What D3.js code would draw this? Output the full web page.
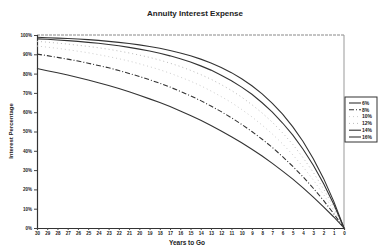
<!DOCTYPE html>
<html>
<head>
<meta charset="utf-8">
<script src="https://cdn.jsdelivr.net/npm/d3@7"></script>
<style>
  body { margin: 0; background: #fff; }
  text { font-family: "Liberation Sans", Arial, sans-serif; font-weight: bold; fill: #222; }
</style>
</head>
<body>
<script>
// years to go, left to right
const years = d3.range(30, -1, -1);
const rates = ["6%", "8%", "10%", "12%", "14%", "16%"];
const yTicks = [0, 10, 20, 30, 40, 50, 60, 70, 80, 90, 100];

// interest share of the payment (%), read for 30 .. 0 years to go
const r6  = [82.6, 81.5, 80.4, 79.3, 78.0, 76.7, 75.3, 73.8, 72.3, 70.6, 68.8, 66.9, 65.0, 62.9, 60.6, 58.3, 55.8, 53.1, 50.3, 47.3, 44.2, 40.8, 37.3, 33.5, 29.5, 25.3, 20.8, 16.0, 11.0, 5.7, 0];
const r8  = [90.1, 89.3, 88.4, 87.5, 86.5, 85.4, 84.2, 83.0, 81.6, 80.1, 78.5, 76.8, 75.0, 73.0, 70.8, 68.5, 66.0, 63.2, 60.3, 57.1, 53.7, 50.0, 46.0, 41.7, 37.0, 31.9, 26.5, 20.6, 14.3, 7.4, 0];
const r10 = [94.3, 93.7, 93.1, 92.4, 91.6, 90.8, 89.8, 88.8, 87.7, 86.5, 85.1, 83.6, 82.0, 80.2, 78.2, 76.1, 73.7, 71.0, 68.1, 65.0, 61.4, 57.6, 53.3, 48.7, 43.6, 37.9, 31.7, 24.9, 17.4, 9.1, 0];
const r12 = [96.7, 96.3, 95.8, 95.3, 94.7, 94.1, 93.4, 92.6, 91.7, 90.7, 89.6, 88.4, 87.0, 85.4, 83.7, 81.7, 79.5, 77.1, 74.3, 71.3, 67.8, 63.9, 59.6, 54.8, 49.3, 43.3, 36.4, 28.8, 20.3, 10.7, 0];
const r14 = [98.0, 97.8, 97.4, 97.1, 96.7, 96.2, 95.7, 95.1, 94.4, 93.6, 92.7, 91.7, 90.5, 89.2, 87.7, 86.0, 84.0, 81.8, 79.2, 76.3, 73.0, 69.3, 64.9, 60.0, 54.4, 48.1, 40.8, 32.5, 23.1, 12.3, 0];
const r16 = [98.8, 98.6, 98.4, 98.2, 97.9, 97.6, 97.2, 96.7, 96.2, 95.6, 94.9, 94.0, 93.1, 92.0, 90.7, 89.2, 87.5, 85.5, 83.2, 80.5, 77.3, 73.7, 69.5, 64.6, 59.0, 52.4, 44.8, 35.9, 25.7, 13.8, 0];

const series = [r6, r8, r10, r12, r14, r16];
const styles = [
  { stroke: "#333", dash: null, w: 1.1 },
  { stroke: "#333", dash: "5,2,1,2", w: 1.1 },
  { stroke: "#ccc", dash: "1,3", w: 1 },
  { stroke: "#bbb", dash: "1,3", w: 1 },
  { stroke: "#333", dash: null, w: 1.1 },
  { stroke: "#333", dash: null, w: 1.1 }
];

const W = 378, H = 250;
const plotL = 37, plotR = 344, plotT = 35, plotB = 228;

const svg = d3.select("body").append("svg")
  .attr("width", W).attr("height", H);

const x = d3.scalePoint().domain(years).range([plotL, plotR]);
const y = d3.scaleLinear().domain([0, 100]).range([plotB, plotT]);

// title
svg.append("text").attr("x", 195).attr("y", 16)
  .attr("text-anchor", "middle").style("font-size", "8px")
  .text("Annuity Interest Expense");

// frame top/right
svg.append("line").attr("x1", plotL).attr("x2", plotR).attr("y1", plotT).attr("y2", plotT)
  .attr("stroke", "#888").attr("stroke-dasharray", "3,1").attr("stroke-width", 1);
svg.append("line").attr("x1", plotR).attr("x2", plotR).attr("y1", plotT).attr("y2", plotB)
  .attr("stroke", "#999").attr("stroke-width", 1);

// axes
const yAxis = svg.append("g")
  .attr("transform", `translate(${plotL},0)`)
  .call(d3.axisLeft(y).tickValues(yTicks).tickSize(3).tickPadding(2).tickFormat(d => d + "%"));
const xAxis = svg.append("g")
  .attr("transform", `translate(0,${plotB})`)
  .call(d3.axisBottom(x).tickSize(2).tickPadding(2));

[yAxis, xAxis].forEach(g => {
  g.select(".domain").attr("stroke", "#333").attr("stroke-width", 1.2);
  g.selectAll(".tick line").attr("stroke", "#444");
  g.selectAll("text").style("font-size", "4.5px").attr("fill", "#222")
    .style("font-family", "'Liberation Sans', Arial, sans-serif").style("font-weight", "bold");
});

// axis titles
svg.append("text").attr("transform", "translate(13,131) rotate(-90)")
  .attr("text-anchor", "middle").style("font-size", "6px")
  .text("Interest Percentage");
svg.append("text").attr("x", 187).attr("y", 245)
  .attr("text-anchor", "middle").style("font-size", "6.5px")
  .text("Years to Go");

// lines
const line = d3.line().x((d, i) => x(years[i])).y(d => y(d));
svg.selectAll("path.series")
  .data(series)
  .join("path")
  .attr("class", "series")
  .attr("d", line)
  .attr("fill", "none")
  .attr("stroke", (d, i) => styles[i].stroke)
  .attr("stroke-width", (d, i) => styles[i].w)
  .attr("stroke-dasharray", (d, i) => styles[i].dash);

// legend
const lg = svg.append("g").attr("transform", "translate(345,97)");
lg.append("rect").attr("width", 32).attr("height", 45)
  .attr("fill", "#fff").attr("stroke", "#333").attr("stroke-width", 1);
const item = lg.selectAll("g.item").data(rates).join("g")
  .attr("class", "item")
  .attr("transform", (d, i) => `translate(0,${6 + i * 6.8})`);
item.append("line").attr("x1", 4).attr("x2", 16).attr("y1", 0).attr("y2", 0)
  .attr("stroke", (d, i) => styles[i].stroke)
  .attr("stroke-width", (d, i) => styles[i].w)
  .attr("stroke-dasharray", (d, i) => styles[i].dash);
item.append("text").attr("x", 17).attr("y", 1.8)
  .style("font-size", "5px").text(d => d);
</script>
</body>
</html>
